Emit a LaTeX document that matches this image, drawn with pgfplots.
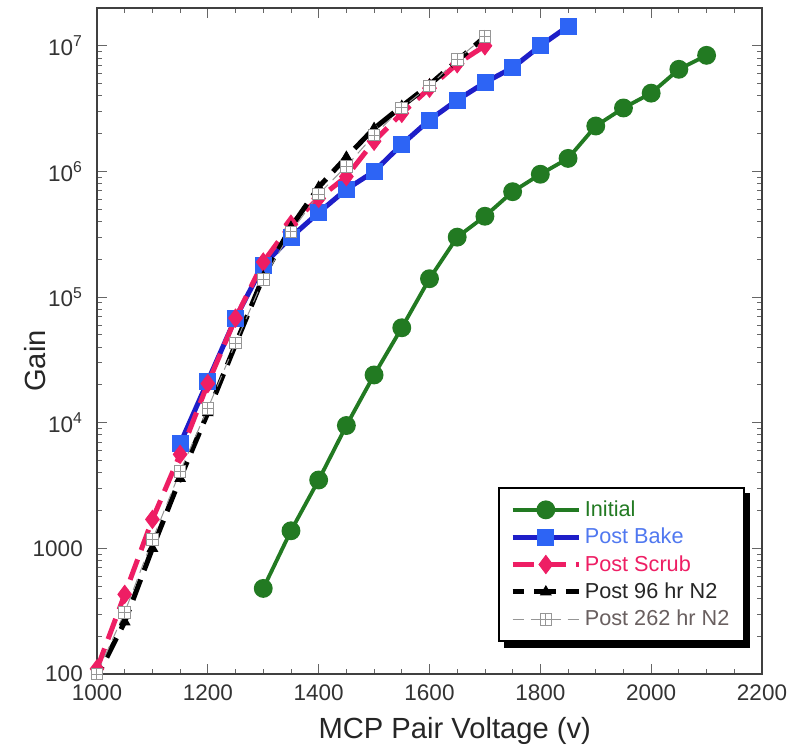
\documentclass[border=0pt]{standalone}
\usepackage{fontspec}
\setmainfont{Liberation Sans}
\usepackage{pgfplots}
\pgfplotsset{compat=1.18}

\pgfdeclarelayer{bg}
\pgfsetlayers{bg,main}

\definecolor{cgreen}{RGB}{34,122,34}
\definecolor{cblueline}{RGB}{30,30,200}
\definecolor{cbluemark}{RGB}{45,100,245}
\definecolor{cbluetext}{RGB}{80,120,240}
\definecolor{cpink}{RGB}{238,30,100}
\definecolor{cgray}{RGB}{150,150,150}
\definecolor{cgraytext}{RGB}{105,95,95}

% square with a cross inside
\pgfdeclareplotmark{boxplus}{%
  \pgfpathrectangle{\pgfqpoint{-\pgfplotmarksize}{-\pgfplotmarksize}}{\pgfqpoint{2\pgfplotmarksize}{2\pgfplotmarksize}}%
  \pgfusepathqfillstroke
  \pgfpathmoveto{\pgfqpoint{-\pgfplotmarksize}{0pt}}\pgfpathlineto{\pgfqpoint{\pgfplotmarksize}{0pt}}%
  \pgfpathmoveto{\pgfqpoint{0pt}{-\pgfplotmarksize}}\pgfpathlineto{\pgfqpoint{0pt}{\pgfplotmarksize}}%
  \pgfusepathqstroke}

\begin{document}
\begin{tikzpicture}
\useasboundingbox (-58.2pt,-43.2pt) rectangle (423.6pt,404.4pt);
\begin{axis}[
    scale only axis,
    width=399pt, height=399.6pt,
    xmin=1000, xmax=2200,
    ymode=log, ymin=100, ymax=2e7,
    xtick={1000,1200,...,2200},
    minor x tick num=3,
    ytick={100,1000,1e4,1e5,1e6,1e7},
    yticklabels={100,1000,10\textsuperscript{4},10\textsuperscript{5},10\textsuperscript{6},10\textsuperscript{7}},
    /pgf/number format/1000 sep={},
    /pgf/number format/assume math mode=true,
    tick label style={font=\fontsize{13.5}{16}\selectfont, text=black!80},
    xticklabel style={yshift=-3pt},
    yticklabel style={xshift=-5pt},
    major tick length=6pt, minor tick length=3pt,
    tick style={black!60, line width=0.5pt},
    axis line style={line width=1.6pt, black!75},
    xlabel={MCP Pair Voltage (v)},
    ylabel={Gain},
    label style={font=\fontsize{17.5}{20}\selectfont, text=black!85},
    xlabel style={at={(axis description cs:0.538,-0.0856)}, anchor=center},
    ylabel style={at={(axis description cs:-0.093,0.47)}, anchor=center},
    legend style={name=lgd, at={(axis description cs:0.6035,0.281)}, anchor=north west,
        draw=black, line width=1.2pt, fill=white,
        font=\fontsize{13}{15}\selectfont, inner xsep=6.5pt, inner ysep=5pt,
        row sep=0pt,
        nodes={inner ysep=1.2pt, text height=11pt, text depth=3pt}},
    legend cell align=left,
    legend image code/.code={\draw[mark repeat=2,mark phase=2,#1] plot coordinates {(0cm,0cm)(0.7cm,0cm)(1.4cm,0cm)};},
]
\addplot[cgreen, line width=2.3pt, mark=*, mark size=4.5pt, mark options={solid, fill=cgreen}]
coordinates {(1300,480)(1350,1380)(1400,3500)(1450,9500)(1500,24000)(1550,57000)(1600,140000)(1650,300000)(1700,440000)(1750,690000)(1800,950000)(1850,1270000)(1900,2300000)(1950,3200000)(2000,4200000)(2050,6500000)(2100,8400000)};
\addlegendentry{\textcolor{cgreen}{Initial}}

\addplot[cblueline, line width=3pt, mark=square*, mark size=4.8pt, mark options={solid, fill=cbluemark, draw=cbluemark, line width=0.5pt}]
coordinates {(1150,6800)(1200,21500)(1250,68000)(1300,180000)(1350,300000)(1400,470000)(1450,720000)(1500,1000000)(1550,1640000)(1600,2570000)(1650,3700000)(1700,5100000)(1750,6700000)(1800,10000000)(1850,14300000)};
\addlegendentry{\textcolor{cbluetext}{Post Bake}}

\addplot[cpink, line width=3pt, dash pattern=on 13pt off 6pt, mark=diamond*, mark size=5.5pt, mark options={solid, fill=cpink, line width=0.5pt}]
coordinates {(1000,110)(1050,430)(1100,1700)(1150,5600)(1200,20500)(1250,68000)(1300,190000)(1350,380000)(1400,610000)(1450,910000)(1500,1740000)(1550,2900000)(1600,4600000)(1650,7200000)(1700,10000000)};
\addlegendentry{\textcolor{cpink}{Post Scrub}}

\addplot[black, line width=3pt, dash pattern=on 13pt off 6pt, dash phase=6pt, mark=triangle*, mark size=3.6pt, mark options={solid, fill=black, line width=0.5pt}]
coordinates {(1000,95)(1050,260)(1100,1000)(1150,3600)(1200,12000)(1250,42000)(1300,145000)(1350,360000)(1400,750000)(1450,1300000)(1500,2200000)(1550,3300000)(1600,4900000)(1650,7600000)(1700,11800000)};
\addlegendentry{\textcolor{black!85}{Post 96 hr N2}}

\addplot[cgray, line width=0.6pt, dash pattern=on 7pt off 4pt, mark=boxplus, mark size=3.5pt, mark options={solid, fill=white, draw=cgray, line width=0.6pt}]
coordinates {(1000,100)(1050,310)(1100,1170)(1150,4100)(1200,13000)(1250,43000)(1300,138000)(1350,330000)(1400,660000)(1450,1100000)(1500,1950000)(1550,3200000)(1600,4800000)(1650,7800000)(1700,11900000)};
\addlegendentry{\textcolor{cgraytext}{Post 262 hr N2}}
\end{axis}
\begin{pgfonlayer}{bg}
\fill[black] ([xshift=3.5pt,yshift=-3.5pt]lgd.south west) rectangle ([xshift=3.5pt,yshift=-3.5pt]lgd.north east);
\end{pgfonlayer}
\end{tikzpicture}
\end{document}
